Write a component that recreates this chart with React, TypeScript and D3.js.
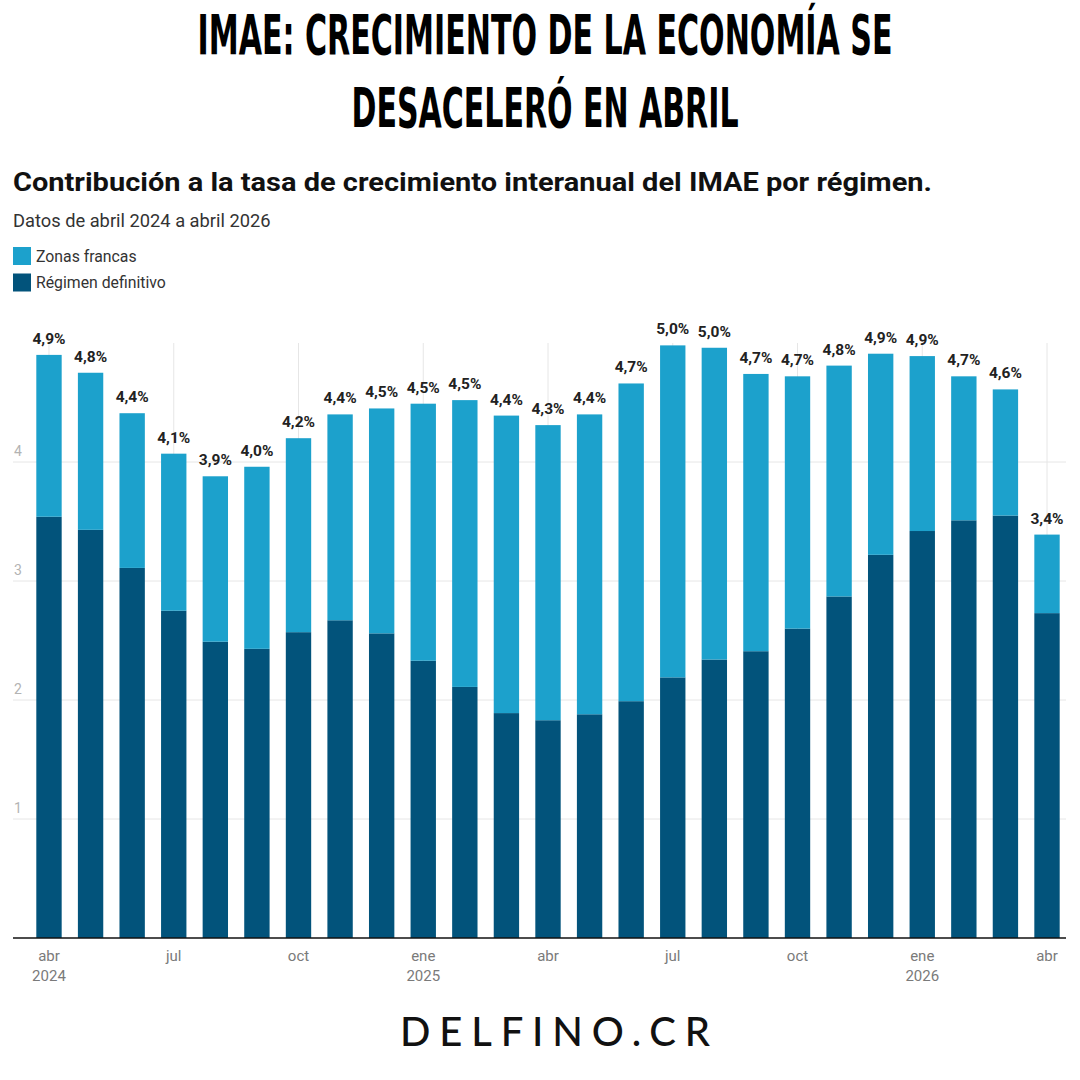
import { useMemo } from "react";
import * as d3 from "d3";

// Monthly data, April 2024 – April 2026
const months = [
  "2024-04", "2024-05", "2024-06", "2024-07", "2024-08", "2024-09", "2024-10",
  "2024-11", "2024-12", "2025-01", "2025-02", "2025-03", "2025-04", "2025-05",
  "2025-06", "2025-07", "2025-08", "2025-09", "2025-10", "2025-11", "2025-12",
  "2026-01", "2026-02", "2026-03", "2026-04",
];

// contribution of "Régimen definitivo" (dark)
const regimenDefinitivo = [
  3.54, 3.43, 3.11, 2.75, 2.49, 2.43, 2.57, 2.67, 2.56, 2.33, 2.11, 1.89, 1.83,
  1.88, 1.99, 2.19, 2.34, 2.41, 2.6, 2.87, 3.22, 3.42, 3.51, 3.55, 2.73,
];

// contribution of "Zonas francas" (light)
const zonasFrancas = [
  1.36, 1.32, 1.3, 1.32, 1.39, 1.53, 1.63, 1.73, 1.89, 2.16, 2.41, 2.5, 2.48,
  2.52, 2.67, 2.79, 2.62, 2.33, 2.12, 1.94, 1.69, 1.47, 1.21, 1.06, 0.66,
];

// published total growth rate (label above each bar)
const crecimientoTotal = [
  4.9, 4.8, 4.4, 4.1, 3.9, 4.0, 4.2, 4.4, 4.5, 4.5, 4.5, 4.4, 4.3, 4.4, 4.7,
  5.0, 5.0, 4.7, 4.7, 4.8, 4.9, 4.9, 4.7, 4.6, 3.4,
];

// x-axis ticks: [month key, month label, year label]
const tickLabels: [string, string, string][] = [
  ["2024-04", "abr", "2024"],
  ["2024-07", "jul", ""],
  ["2024-10", "oct", ""],
  ["2025-01", "ene", "2025"],
  ["2025-04", "abr", ""],
  ["2025-07", "jul", ""],
  ["2025-10", "oct", ""],
  ["2026-01", "ene", "2026"],
  ["2026-04", "abr", ""],
];

const yTicks = [1, 2, 3, 4];

const seriesKeys = ["definitivo", "francas"];
const seriesNames = { francas: "Zonas francas", definitivo: "Régimen definitivo" };
const colors = { francas: "#1ca1cc", definitivo: "#02537b" };

const W = 1080;
const H = 1080;
const plot = { left: 13, right: 1067, top: 343, bottom: 938 };
const font = "Roboto, 'Noto Sans', sans-serif";

export default function App() {
  const x = useMemo(
    () =>
      d3.scaleBand<string>()
        .domain(months)
        .range([28.2, 1067.8])
        .paddingInner(0.39)
        .paddingOuter(0.195),
    []
  );
  const y = useMemo(
    () => d3.scaleLinear().domain([0, 5]).range([plot.bottom, plot.top]),
    []
  );

  const rows = months.map((m, i) => ({
    month: m,
    definitivo: regimenDefinitivo[i],
    francas: zonasFrancas[i],
  }));
  const stacked = d3.stack<(typeof rows)[number]>().keys(seriesKeys)(rows);
  const fmt = (v: number) => v.toFixed(1).replace(".", ",") + "%";
  const bw = x.bandwidth();

  return (
    <svg
      width={W}
      height={H}
      viewBox={`0 0 ${W} ${H}`}
      style={{ position: "absolute", left: 0, top: 0, background: "#fff" }}
    >
      <rect width={W} height={H} fill="#fff" />

      {/* headline */}
      <g fontFamily="'Liberation Sans Narrow', 'DejaVu Sans Condensed', sans-serif" fontWeight={700} fill="#000" textAnchor="middle">
        <text x={545} y={54} fontSize={55} textLength={695} lengthAdjust="spacingAndGlyphs">
          IMAE: CRECIMIENTO DE LA ECONOMÍA SE
        </text>
        <text x={545} y={127} fontSize={55} textLength={387} lengthAdjust="spacingAndGlyphs">
          DESACELERÓ EN ABRIL
        </text>
      </g>

      {/* chart title + description */}
      <text x={13} y={191} fontFamily={font} fontWeight={700} fontSize={26} fill="#111" textLength={919} lengthAdjust="spacingAndGlyphs">
        Contribución a la tasa de crecimiento interanual del IMAE por régimen.
      </text>
      <text x={13} y={227} fontFamily={font} fontSize={18.3} fill="#333">
        Datos de abril 2024 a abril 2026
      </text>

      {/* legend */}
      {(["francas", "definitivo"] as const).map((k, i) => (
        <g key={k} transform={`translate(13,${247 + i * 26.5})`}>
          <rect width={18} height={18} fill={colors[k]} />
          <text x={23} y={14.5} fontFamily={font} fontSize={15.8} fill="#333">
            {seriesNames[k]}
          </text>
        </g>
      ))}

      {/* horizontal grid + y labels */}
      {yTicks.map((t) => (
        <g key={t}>
          <line x1={plot.left} x2={plot.right - 1} y1={y(t)} y2={y(t)} stroke="#e6e6e6" strokeWidth={1} />
          <text x={14} y={y(t) - 6} fontFamily={font} fontSize={14} fill="#b3b3b3">
            {t}
          </text>
        </g>
      ))}

      {/* vertical grid at quarterly ticks */}
      {tickLabels.map(([m]) => {
        const cx = (x(m) ?? 0) + bw / 2;
        return <line key={m} x1={cx} x2={cx} y1={y(5)} y2={plot.bottom} stroke="#e6e6e6" strokeWidth={1} />;
      })}

      {/* stacked bars */}
      {stacked.map((s) => (
        <g key={s.key} fill={colors[s.key as "francas" | "definitivo"]}>
          {s.map((d, i) => (
            <rect
              key={i}
              x={x(d.data.month)}
              y={y(d[1])}
              width={bw}
              height={y(d[0]) - y(d[1])}
            />
          ))}
        </g>
      ))}

      {/* value labels */}
      {months.map((m, i) => {
        const top = stacked[stacked.length - 1][i][1];
        return (
          <text
            key={m}
            x={(x(m) ?? 0) + bw / 2}
            y={y(top) - 11}
            textAnchor="middle"
            fontFamily={font}
            fontWeight={700}
            fontSize={15.5}
            fill="#222"
          >
            {fmt(crecimientoTotal[i])}
          </text>
        );
      })}

      {/* baseline */}
      <line x1={plot.left} x2={plot.right - 1} y1={plot.bottom} y2={plot.bottom} stroke="#111" strokeWidth={1.6} />

      {/* x tick labels */}
      {tickLabels.map(([m, mon, yr]) => {
        const cx = (x(m) ?? 0) + bw / 2;
        return (
          <text key={m} x={cx} textAnchor="middle" fontFamily={font} fontSize={15} fill="#7a7a7a">
            <tspan x={cx} y={961}>{mon}</tspan>
            {yr && <tspan x={cx} y={981}>{yr}</tspan>}
          </text>
        );
      })}

      {/* footer brand */}
      <text
        x={555}
        y={1046}
        textAnchor="middle"
        fontFamily="Lato, 'Open Sans', sans-serif"
        fontWeight={500}
        fontSize={40}
        fill="#111"
        textLength={310}
        lengthAdjust="spacing"
      >
        DELFINO.CR
      </text>
    </svg>
  );
}
